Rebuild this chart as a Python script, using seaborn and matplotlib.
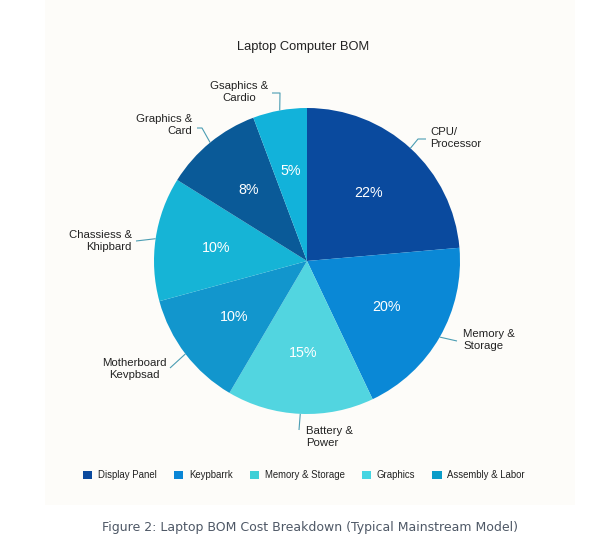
import matplotlib
matplotlib.use("Agg")
import matplotlib.pyplot as plt
import matplotlib.patches as mpatches
import seaborn as sns
import numpy as np

# ---- data ----
components = ["CPU/\nProcessor", "Memory &\nStorage", "Battery &\nPower",
              "Motherboard\nKevpbsad", "Chassiess &\nKhipbard", "Graphics &\nCard",
              "Gsaphics &\nCardio"]
slice_shares = [23.6, 19.3, 15.5, 12.3, 13.1, 10.4, 5.7]   # angular share as drawn
pct_labels = ["22%", "20%", "15%", "10%", "10%", "8%", "5%"]
slice_colors = ["#0A4A9E", "#0A88D6", "#52D5E0", "#1296CD", "#16B4D6", "#0A5A98", "#12B2DA"]

legend_names = ["Display Panel", "Keypbarrk", "Memory & Storage", "Graphics", "Assembly & Labor"]
legend_colors = ["#0B4A9E", "#0A86D6", "#3ECFD6", "#45D5E2", "#0A9CC8"]

title = "Laptop Computer BOM"
caption = "Figure 2: Laptop BOM Cost Breakdown (Typical Mainstream Model)"

sns.set_theme(style="white")
plt.rcParams["font.family"] = ["Liberation Sans", "DejaVu Sans"]

W, H = 613, 554
fig = plt.figure(figsize=(W / 100, H / 100), dpi=100)
fig.patch.set_facecolor("white")
bg = mpatches.Rectangle((45 / W, 1 - 505 / H), 530 / W, 505 / H,
                        transform=fig.transFigure, facecolor="#fdfcf9",
                        edgecolor="none", zorder=-10)
fig.patches.append(bg)

R = 153.0
cx, cy = 307.0, 261.0
ax = fig.add_axes([0, 0, 1, 1])
ax.set_facecolor("none")
ax.patch.set_alpha(0)

lab_iter = iter(pct_labels)
wedges, _, autotexts = ax.pie(slice_shares, colors=slice_colors, startangle=90,
                              counterclock=False, radius=1.0, pctdistance=0.6,
                              autopct=lambda p: next(lab_iter),
                              wedgeprops=dict(linewidth=0),
                              textprops=dict(color="white", fontsize=10.3))
ax.set_xlim(-cx / R, (W - cx) / R)
ax.set_ylim(-(H - cy) / R, cy / R)
ax.set_aspect("equal")
ax.axis("off")


def d(px, py):
    return ((px - cx) / R, (cy - py) / R)


def edge(w):
    a = np.deg2rad((w.theta1 + w.theta2) / 2)
    return (np.cos(a), np.sin(a))


line_col = "#4B9DB3"
label_specs = [
    ((430, 138), "left", [(418, 139), (426, 139)]),
    ((463, 340), "left", [(457, 341)]),
    ((306, 437), "left", [(299, 430)]),
    ((134, 369), "center", [(170, 368)]),
    ((132, 241), "right", [(136, 241)]),
    ((192, 125), "right", [(202, 128), (197, 128)]),
    ((239, 92), "center", [(280, 93), (272, 93)]),
]
for w, name, (tp, ha, path) in zip(wedges, components, label_specs):
    ex, ey = edge(w)
    pts = [(ex, ey)] + [d(*p) for p in path]
    xs, ys = zip(*pts)
    ax.plot(xs, ys, color=line_col, lw=0.8, solid_capstyle="butt")
    tx, ty = d(*tp)
    ax.text(tx, ty, name, ha=ha, va="center", fontsize=8.2, color="#222222",
            linespacing=1.15, multialignment=ha)

fig.text(303 / W, 1 - 47 / H, title, ha="center", va="center", fontsize=9.3, color="#222222")

handles = [mpatches.Patch(facecolor=c, edgecolor="none", label=n)
           for n, c in zip(legend_names, legend_colors)]
fig.legend(handles=handles, loc="center", bbox_to_anchor=(304 / W, 1 - 475 / H), ncol=5,
           frameon=False, fontsize=6.9, handlelength=0.95, handleheight=0.95,
           handletextpad=0.6, columnspacing=1.8, labelcolor="#222222")

fig.text(310 / W, 1 - 527 / H, caption, ha="center", va="center", fontsize=9,
         color="#4E5866", family=["DejaVu Sans"])

fig.savefig("out.png", dpi=100, facecolor=fig.get_facecolor())
